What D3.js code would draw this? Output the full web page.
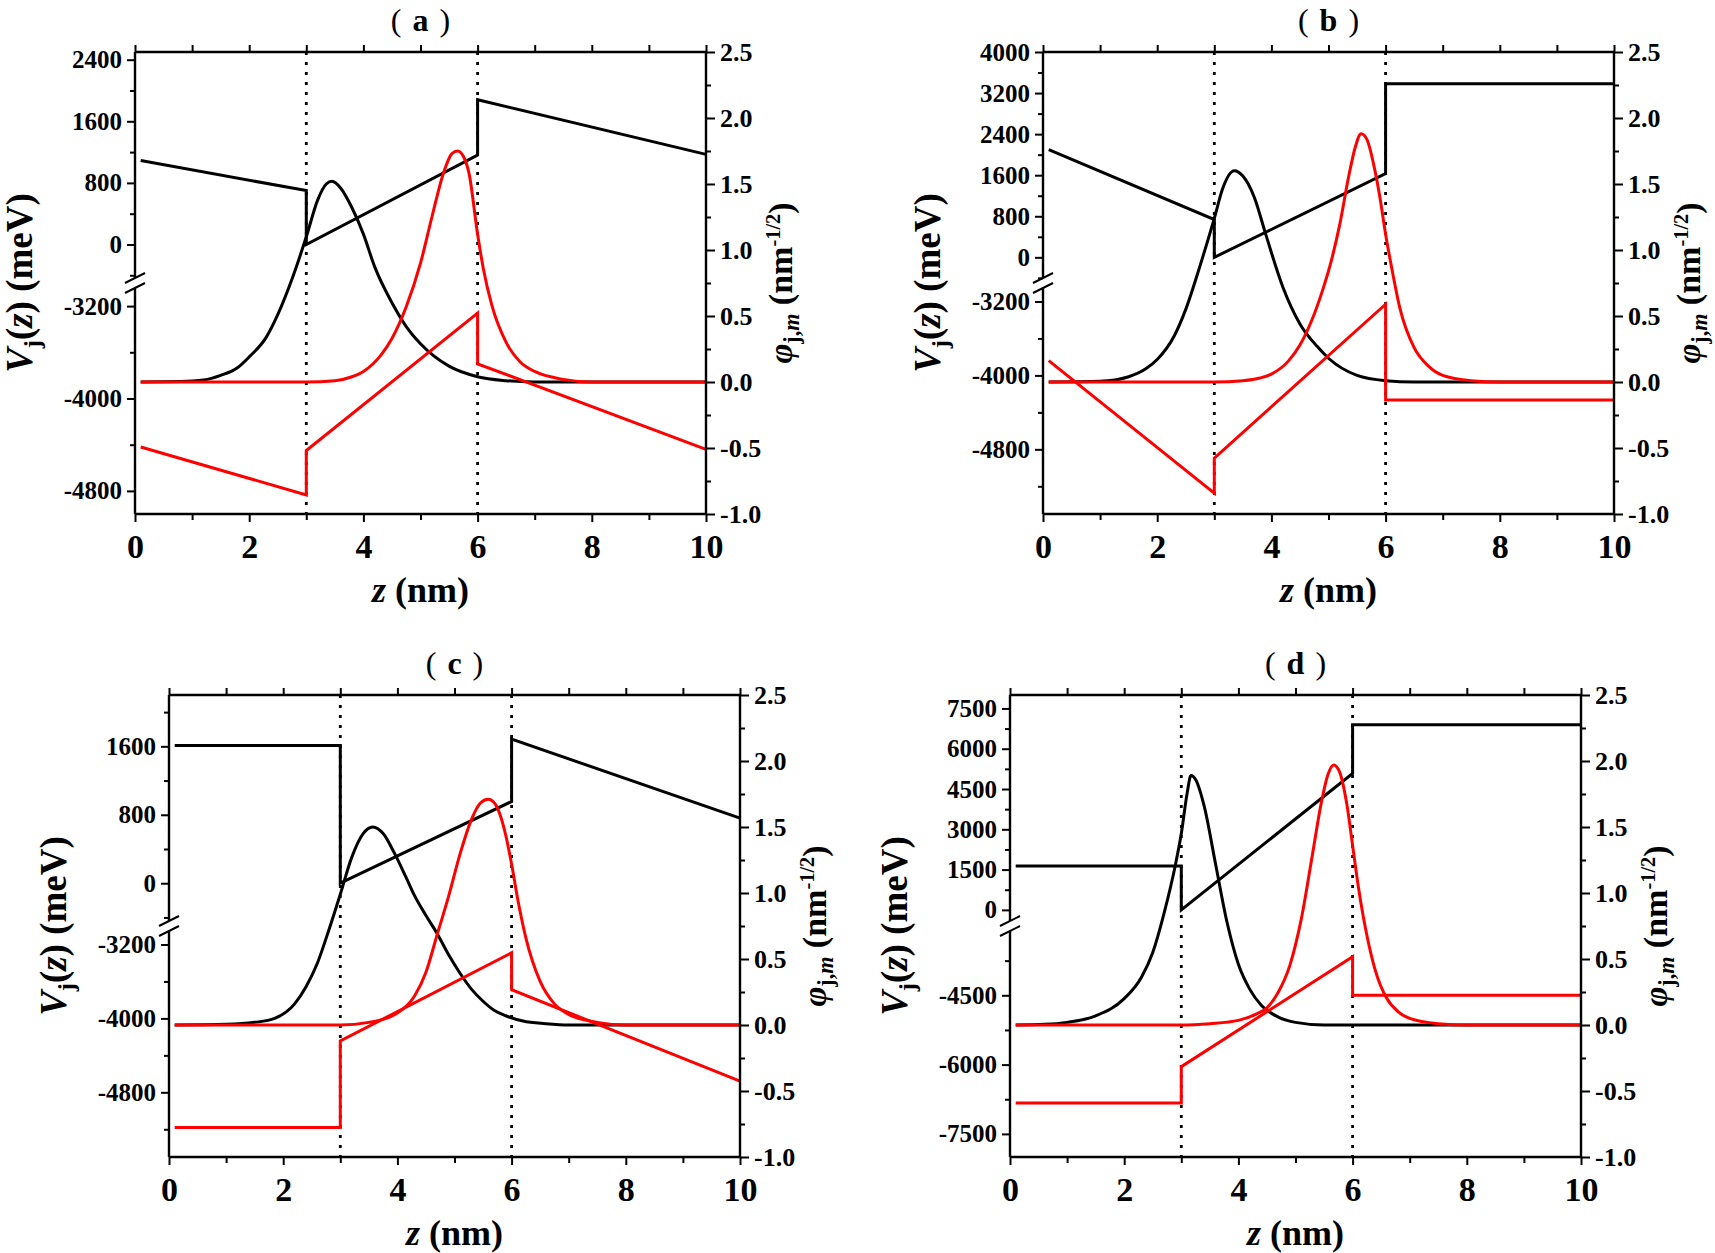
<!DOCTYPE html>
<html>
<head>
<meta charset="utf-8">
<script src="https://cdn.jsdelivr.net/npm/d3@7"></script>
<style>
  body { margin: 0; background: #fff; }
  text { font-family: "Liberation Serif", "Times New Roman", serif; font-weight: bold; fill: #000; }
  .tick line { stroke: #000; stroke-width: 2px; }
  .ytick text { font-size: 25px; }
  .rtick text { font-size: 26px; }
  .xtick text { font-size: 34px; }
  .x-label { font-size: 36px; }
  .v-label { font-size: 37px; }
  .phi-label { font-size: 34px; }
  .title { font-size: 32px; }
  .paren { font-weight: normal; }
</style>
</head>
<body>
<div id="chart"></div>
<script>
// ---- data ----
// potential breakpoints (nm), shared by every band-edge line
var potZ = [0.1, 3, 3, 6, 6, 10];

// conduction (black) and valence (red) band edges, meV
var condA = [1090, 700, 0, 1160, 1880, 1170];
var valA  = [-4420, -4835, -4450, -3260, -3700, -4440];
var condB = [2100, 735, 0, 1630, 3380, 3380];
var valB  = [-3840, -5275, -4895, -3230, -4265, -4265];
var condC = [1610, 1610, 0, 955, 1685, 760];
var valC  = [-5180, -5180, -4245, -3290, -3690, -4680];
var condD = [1630, 1630, 0, 5080, 6890, 6890];
var valD  = [-6830, -6830, -6045, -3665, -4500, -4500];

// wave functions [z, phi]
var elecA = [[0.1,0],[0.8,0.003],[1.2,0.015],[1.5,0.05],[1.8,0.11],[2.0,0.19],[2.3,0.34],[2.5,0.51],[2.75,0.78],[3.0,1.10],[3.2,1.38],[3.35,1.50],[3.45,1.52],[3.6,1.47],[3.8,1.32],[4.0,1.12],[4.2,0.87],[4.5,0.60],[4.75,0.42],[5.0,0.29],[5.5,0.12],[6.0,0.04],[6.5,0.01],[7.0,0],[10,0]];
var holeA = [[0.1,0],[3.0,0],[3.5,0.01],[3.8,0.04],[4.0,0.08],[4.3,0.2],[4.5,0.33],[4.75,0.57],[5.0,0.90],[5.2,1.25],[5.4,1.58],[5.55,1.73],[5.65,1.75],[5.75,1.71],[5.85,1.58],[6.0,1.12],[6.1,0.86],[6.25,0.58],[6.5,0.30],[6.75,0.15],[7.0,0.08],[7.5,0.02],[8.0,0],[10,0]];
var elecB = [[0.1,0],[1.0,0.005],[1.5,0.04],[1.8,0.1],[2.0,0.17],[2.3,0.35],[2.5,0.55],[2.75,0.88],[3.0,1.24],[3.15,1.47],[3.35,1.60],[3.5,1.56],[3.7,1.40],[3.9,1.12],[4.2,0.72],[4.5,0.44],[4.8,0.27],[5.0,0.18],[5.5,0.05],[6.0,0.01],[6.5,0],[10,0]];
var holeB = [[0.1,0],[3.0,0],[3.5,0.01],[3.8,0.03],[4.0,0.06],[4.3,0.16],[4.5,0.28],[4.7,0.46],[4.9,0.70],[5.05,0.92],[5.2,1.2],[5.35,1.55],[5.47,1.78],[5.57,1.88],[5.67,1.84],[5.8,1.63],[5.9,1.40],[6.0,1.12],[6.1,0.88],[6.25,0.56],[6.5,0.26],[6.75,0.12],[7.0,0.05],[7.5,0.01],[8,0],[10,0]];
var elecC = [[0.1,0],[1.0,0.005],[1.5,0.02],[1.85,0.05],[2.2,0.16],[2.4,0.29],[2.6,0.47],[2.8,0.72],[3.0,0.99],[3.2,1.27],[3.4,1.45],[3.57,1.50],[3.75,1.45],[3.95,1.30],[4.15,1.12],[4.3,0.98],[4.5,0.83],[4.7,0.69],[4.9,0.53],[5.1,0.39],[5.3,0.27],[5.5,0.18],[5.7,0.11],[5.9,0.07],[6.2,0.03],[6.6,0.01],[7.0,0],[10,0]];
var holeC = [[0.1,0],[3.0,0],[3.5,0.02],[3.8,0.05],[4.0,0.09],[4.3,0.22],[4.5,0.4],[4.7,0.69],[4.9,0.98],[5.1,1.3],[5.3,1.56],[5.45,1.68],[5.59,1.71],[5.72,1.67],[5.85,1.52],[6.0,1.22],[6.1,0.97],[6.25,0.66],[6.5,0.33],[6.75,0.16],[7.0,0.08],[7.5,0.02],[8.0,0],[10,0]];
var elecD = [[0.1,0],[0.6,0.005],[1.0,0.02],[1.5,0.07],[2.0,0.2],[2.3,0.36],[2.5,0.55],[2.7,0.85],[2.9,1.22],[3.0,1.45],[3.1,1.75],[3.17,1.89],[3.25,1.86],[3.4,1.66],[3.6,1.22],[3.8,0.78],[4.0,0.46],[4.2,0.27],[4.4,0.15],[4.7,0.06],[5.0,0.02],[5.5,0],[10,0]];
var holeD = [[0.1,0],[3.0,0],[3.5,0.01],[4.0,0.035],[4.3,0.08],[4.5,0.13],[4.7,0.25],[4.9,0.45],[5.1,0.8],[5.3,1.3],[5.45,1.68],[5.57,1.9],[5.67,1.97],[5.77,1.92],[5.9,1.67],[6.0,1.36],[6.1,1.05],[6.25,0.68],[6.4,0.41],[6.6,0.2],[6.8,0.1],[7.0,0.05],[7.5,0.01],[8,0],[10,0]];

// ticks
var zMajor = [0, 2, 4, 6, 8, 10];
var zMinor = [1, 3, 5, 7, 9];
var phiMajor = [-1, -0.5, 0, 0.5, 1, 1.5, 2, 2.5];
var phiMinor = [-0.75, -0.25, 0.25, 0.75, 1.25, 1.75, 2.25];
var barriers = [3, 6];

var upTicksA = [0, 800, 1600, 2400], upMinorA = [-400, 400, 1200, 2000];
var lowTicksA = [-4800, -4000, -3200], lowMinorA = [-4400, -3600];
var upTicksB = [0, 800, 1600, 2400, 3200, 4000], upMinorB = [-400, 400, 1200, 2000, 2800, 3600];
var lowTicksB = [-4800, -4000, -3200], lowMinorB = [-5200, -4400, -3600];
var upTicksC = [0, 800, 1600], upMinorC = [-400, 400, 1200, 2000];
var lowTicksC = [-4800, -4000, -3200], lowMinorC = [-5200, -4400, -3600];
var upTicksD = [0, 1500, 3000, 4500, 6000, 7500], upMinorD = [750, 2250, 3750, 5250, 6750];
var lowTicksD = [-7500, -6000, -4500], lowMinorD = [-6750, -5250, -3750];

// ---- layout ----
var svgWidth = 1715, svgHeight = 1253;
var W = 571, H = 462;

var panels = [
    { letter: 'a', left: 135, top: 52, up: [-500, 2500], low: [-5000, -3000],
      upTicks: upTicksA, upMinor: upMinorA, lowTicks: lowTicksA, lowMinor: lowMinorA,
      cond: condA, val: valA, elec: elecA, hole: holeA },
    { letter: 'b', left: 1043, top: 52, up: [-500, 4000], low: [-5500, -3000],
      upTicks: upTicksB, upMinor: upMinorB, lowTicks: lowTicksB, lowMinor: lowMinorB,
      cond: condB, val: valB, elec: elecB, hole: holeB },
    { letter: 'c', left: 169, top: 695, up: [-500, 2200], low: [-5500, -3000],
      upTicks: upTicksC, upMinor: upMinorC, lowTicks: lowTicksC, lowMinor: lowMinorC,
      cond: condC, val: valC, elec: elecC, hole: holeC },
    { letter: 'd', left: 1010, top: 695, up: [-600, 8000], low: [-8000, -3000],
      upTicks: upTicksD, upMinor: upMinorD, lowTicks: lowTicksD, lowMinor: lowMinorD,
      cond: condD, val: valD, elec: elecD, hole: holeD }
];

var svg = d3.select('#chart').append('svg')
    .attr('width', svgWidth)
    .attr('height', svgHeight);

var RED = '#f00';
var LW = 3;
var plain = d => String(d);          // hyphen minus like the original
var oneDec = d => d.toFixed(1);

panels.forEach(function (p) {
    var g = svg.append('g').attr('transform', `translate(${p.left}, ${p.top})`);

    var x = d3.scaleLinear().domain([0, 10]).range([0, W]);
    var yPhi = d3.scaleLinear().domain([-1, 2.5]).range([H, 0]);
    var yUp = d3.scaleLinear().domain(p.up).range([H / 2, 0]);
    var yLow = d3.scaleLinear().domain(p.low).range([H, H / 2]);
    var yV = function (v) { return v > -2000 ? yUp(v) : yLow(v); };

    // dotted barrier lines
    g.selectAll('.barrier').data(barriers).enter().append('line')
        .attr('x1', d => x(d)).attr('x2', d => x(d))
        .attr('y1', 0).attr('y2', H)
        .attr('stroke', '#000').attr('stroke-width', 2.8)
        .attr('stroke-dasharray', '3,7');

    // curves
    var lineV = d3.line().x((d, i) => x(potZ[i])).y(d => yV(d));
    var lineWf = d3.line().x(d => x(d[0])).y(d => yPhi(d[1])).curve(d3.curveMonotoneX);

    g.append('path').datum(p.cond).attr('d', lineV)
        .attr('fill', 'none').attr('stroke', '#000').attr('stroke-width', LW);
    g.append('path').datum(p.elec).attr('d', lineWf)
        .attr('fill', 'none').attr('stroke', '#000').attr('stroke-width', LW);
    g.append('path').datum(p.val).attr('d', lineV)
        .attr('fill', 'none').attr('stroke', RED).attr('stroke-width', LW);
    g.append('path').datum(p.hole).attr('d', lineWf)
        .attr('fill', 'none').attr('stroke', RED).attr('stroke-width', LW);

    // bottom axis
    g.append('g').attr('class', 'xtick').attr('transform', `translate(0, ${H})`)
        .call(d3.axisBottom(x).tickValues(zMajor).tickSize(8).tickPadding(12).tickFormat(plain));
    g.append('g').attr('transform', `translate(0, ${H})`)
        .call(d3.axisBottom(x).tickValues(zMinor).tickSize(6).tickFormat(''));
    // top axis
    g.append('g')
        .call(d3.axisTop(x).tickValues(zMajor.concat(zMinor)).tickSize(7).tickFormat(''));

    // left axis, broken in two
    g.append('g').attr('class', 'ytick')
        .call(d3.axisLeft(yUp).tickValues(p.upTicks).tickSize(8).tickPadding(5).tickFormat(plain));
    g.append('g').call(d3.axisLeft(yUp).tickValues(p.upMinor).tickSize(5).tickFormat(''));
    g.append('g').attr('class', 'ytick')
        .call(d3.axisLeft(yLow).tickValues(p.lowTicks).tickSize(8).tickPadding(5).tickFormat(plain));
    g.append('g').call(d3.axisLeft(yLow).tickValues(p.lowMinor).tickSize(5).tickFormat(''));

    // right axis
    g.append('g').attr('class', 'rtick').attr('transform', `translate(${W}, 0)`)
        .call(d3.axisRight(yPhi).tickValues(phiMajor).tickSize(9).tickPadding(5).tickFormat(oneDec));
    g.append('g').attr('transform', `translate(${W}, 0)`)
        .call(d3.axisRight(yPhi).tickValues(phiMinor).tickSize(5).tickFormat(''));

    g.selectAll('.domain').remove();

    // frame
    var gap = 5;
    var frame = [
        [0, 0, W, 0], [W, 0, W, H], [0, H, W, H],
        [0, 0, 0, H / 2 - gap], [0, H / 2 + gap, 0, H]
    ];
    g.selectAll('.frame').data(frame).enter().append('line')
        .attr('x1', d => d[0]).attr('y1', d => d[1]).attr('x2', d => d[2]).attr('y2', d => d[3])
        .attr('stroke', '#000').attr('stroke-width', 2.4);

    // break marks
    g.selectAll('.brk').data([H / 2 - gap, H / 2 + gap]).enter().append('line')
        .attr('x1', -10).attr('y1', d => d + 5)
        .attr('x2', 10).attr('y2', d => d - 5)
        .attr('stroke', '#000').attr('stroke-width', 2);

    // title, wide brackets like the original
    var t = g.append('text').attr('class', 'title')
        .attr('x', W / 2).attr('y', -21)
        .attr('text-anchor', 'middle');
    t.append('tspan').attr('class', 'paren').text('(');
    t.append('tspan').attr('dx', 11).text(p.letter);
    t.append('tspan').attr('class', 'paren').attr('dx', 11).text(')');

    // x label
    var xl = g.append('text').attr('class', 'x-label')
        .attr('x', W / 2).attr('y', H + 88)
        .attr('text-anchor', 'middle');
    xl.append('tspan').style('font-style', 'italic').text('z');
    xl.append('tspan').text(' (nm)');

    // left label
    var yl = g.append('text').attr('class', 'v-label')
        .attr('transform', `translate(-103, ${H / 2}) rotate(-90)`)
        .attr('text-anchor', 'middle');
    yl.append('tspan').style('font-style', 'italic').text('V');
    yl.append('tspan').attr('font-size', '0.65em').attr('dy', 8).text('j');
    yl.append('tspan').attr('dy', -8).text('(');
    yl.append('tspan').style('font-style', 'italic').text('z');
    yl.append('tspan').text(') (meV)');

    // right label
    var rl = g.append('text').attr('class', 'phi-label')
        .attr('transform', `translate(${W + 86}, ${H / 2}) rotate(-90)`)
        .attr('text-anchor', 'middle');
    rl.append('tspan').style('font-style', 'italic').text('φ');
    rl.append('tspan').attr('font-size', '0.65em').attr('dy', 7).text('j,');
    rl.append('tspan').attr('font-size', '0.65em').style('font-style', 'italic').text('m');
    rl.append('tspan').attr('dy', -7).text(' (nm');
    rl.append('tspan').attr('font-size', '0.6em').attr('dy', -12).text('-1/2');
    rl.append('tspan').attr('dy', 12).text(')');
});
</script>
</body>
</html>
